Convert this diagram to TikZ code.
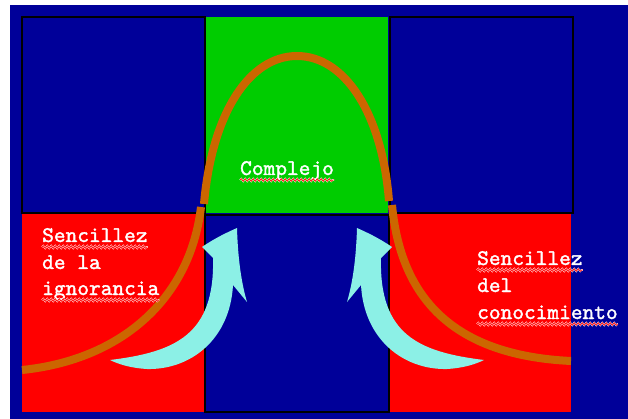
\documentclass[tikz,border=0pt]{standalone}
\usepackage{fontspec}
\newfontfamily\labelfont{lmmono10-regular.otf}[FakeBold=1.6]
\usetikzlibrary{decorations.pathmorphing}

\definecolor{navy}{RGB}{0,0,153}
\definecolor{grass}{RGB}{0,204,0}
\definecolor{rust}{RGB}{204,102,0}
\definecolor{aqua}{RGB}{140,240,230}

\begin{document}
\begin{tikzpicture}[x=1pt,y=-1pt,
  panel/.style={draw=black,line width=2pt},
  caption/.style={text=white,font=\labelfont\fontsize{22.3}{24}\selectfont,
    anchor=base west,inner sep=0pt},
  wavy/.style={decorate,decoration={snake,amplitude=1.3pt,segment length=4pt}},
  squiggle/.style={wavy,draw=red,line width=0.7pt},
  squiggleedge/.style={wavy,draw=white,line width=1.6pt},
  bell/.style={draw=rust,line width=8pt},
  sweep/.style={fill=aqua}]

\useasboundingbox (0,0) rectangle (628,419);
\fill[white] (0,0) rectangle (628,419);
\fill[navy] (10,5) rectangle (628,419);

% upper row: two dark panels around the green "complex" zone
\fill[grass] (205,17) rectangle (388,213);
\filldraw[panel,fill=navy] (22,17) rectangle (205,213);
\filldraw[panel,fill=navy] (390,17) rectangle (573,213);

% lower row: two red "simplicity" zones around a dark panel
\fill[red] (22,214) rectangle (204,412);
\fill[red] (390,214) rectangle (571,412);
\filldraw[panel,fill=navy] (205,215) rectangle (389,412);

% curved block arrows rising into the middle column
\def\sweeppath{(110,360) .. controls (175,352) and (215,335) .. (213,258)
  -- (202,247) .. controls (215,238) and (228,232) .. (237,228)
  .. controls (238,262) and (242,285) .. (247,302) -- (233,285)
  .. controls (230,340) and (190,370) .. (147,369)
  .. controls (130,368) and (118,364) .. cycle}
\fill[sweep] \sweeppath;
\begin{scope}[shift={(594,0)},xscale=-1]
  \fill[sweep] \sweeppath;
\end{scope}

% bell-shaped curve
\draw[bell] (22,370) .. controls (120,360) and (190,300) .. (201,207);
\draw[bell] (204,204) .. controls (212,112) and (250,56) .. (297,56)
  .. controls (344,56) and (382,112) .. (389,201);
\draw[bell] (392,205) .. controls (400,290) and (445,355) .. (571,361);

% texts
\node[caption] (cx) at (240,175) {Complejo};
\node[caption] (l1) at (42,242) {Sencillez};
\node[caption] (l2) at (42,269) {de la};
\node[caption] (l3) at (42,295) {ignorancia};
\node[caption] (r1) at (477,265) {Sencillez};
\node[caption] (r2) at (477,292) {del};
\node[caption] (r3) at (477,319) {conocimiento};

% spell-check underlines
\foreach \w in {cx,l1,l3,r1,r3}{
  \draw[squiggleedge] ([yshift=-5pt]\w.base west) -- ([yshift=-5pt]\w.base east);
  \draw[squiggle] ([yshift=-5pt]\w.base west) -- ([yshift=-5pt]\w.base east);
}
\end{tikzpicture}
\end{document}
